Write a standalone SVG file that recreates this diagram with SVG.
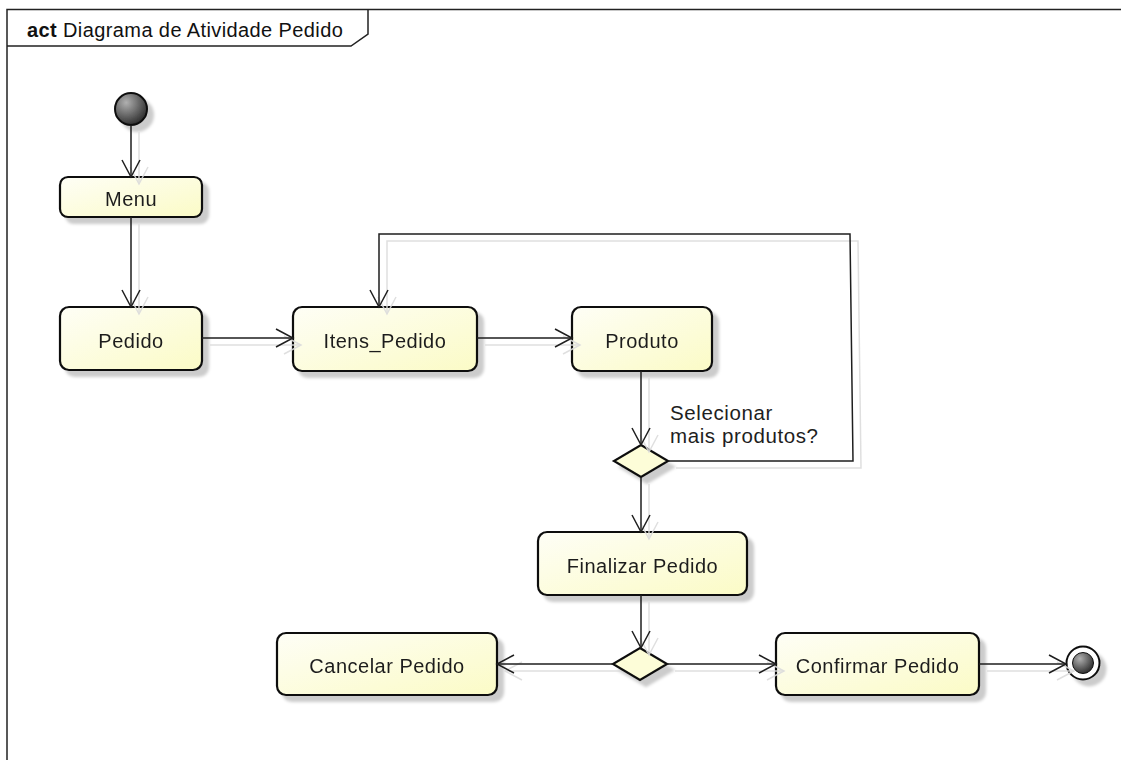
<svg xmlns="http://www.w3.org/2000/svg" width="1121" height="760" viewBox="0 0 1121 760">
  <style>
    .frame { fill: none; stroke: #222; stroke-width: 1.5; }
    .box { fill: url(#actFill); stroke: #111; stroke-width: 2.2; }
    .dec { fill: #fdfdd8; stroke: #111; stroke-width: 2.2; }
    .lbl { font-family: "Liberation Sans", Arial, sans-serif; font-size: 20px; letter-spacing: 0.5px; fill: #1e1e1e; text-anchor: middle; }
    .guard { font-family: "Liberation Sans", Arial, sans-serif; font-size: 20.5px; letter-spacing: 0.6px; fill: #1e1e1e; }
    .title { font-family: "Liberation Sans", Arial, sans-serif; font-size: 20px; letter-spacing: 0.4px; fill: #111; }
    .flow { fill: none; stroke: #1e1e1e; stroke-width: 1.5; marker-end: url(#open); }
    .flowShadow { fill: none; stroke: #dcdcdc; stroke-width: 1.5; marker-end: url(#openShadow); }
  </style>
  <defs>
    <linearGradient id="actFill" x1="0" y1="0" x2="1" y2="1">
      <stop offset="0" stop-color="#fefef6"/>
      <stop offset="1" stop-color="#fbfbc6"/>
    </linearGradient>
    <radialGradient id="ball" cx="0.35" cy="0.3" r="0.75">
      <stop offset="0" stop-color="#b0b0b0"/>
      <stop offset="1" stop-color="#2a2a2a"/>
    </radialGradient>
    <filter id="drop" x="-20%" y="-20%" width="150%" height="160%">
      <feGaussianBlur in="SourceAlpha" stdDeviation="1.6" result="b"/>
      <feOffset in="b" dx="6" dy="6" result="o"/>
      <feFlood flood-color="#000" flood-opacity="0.2"/>
      <feComposite in2="o" operator="in" result="s"/>
      <feMerge>
        <feMergeNode in="s"/>
        <feMergeNode in="SourceGraphic"/>
      </feMerge>
    </filter>
    <marker id="open" markerUnits="userSpaceOnUse" markerWidth="22" markerHeight="22" viewBox="0 0 22 22" refX="19" refY="11" orient="auto">
      <path d="M2,2 L19,11 L2,20" fill="none" stroke="#1e1e1e" stroke-width="1.5"/>
    </marker>
    <marker id="openShadow" markerUnits="userSpaceOnUse" markerWidth="22" markerHeight="22" viewBox="0 0 22 22" refX="19" refY="11" orient="auto">
      <path d="M2,2 L19,11 L2,20" fill="none" stroke="#dcdcdc" stroke-width="1.5"/>
    </marker>
  </defs>

  <rect width="1121" height="760" fill="#fff"/>

  <!-- activity frame with name tab -->
  <g id="frame">
    <path class="frame" d="M7,760 V9.5 H1121"/>
    <path class="frame" d="M7,46 H351 L368,34 V9.5"/>
    <text x="27" y="37" class="title" font-weight="bold">act</text>
    <text x="63" y="37" class="title">Diagrama de Atividade Pedido</text>
  </g>

  <!-- nodes -->
  <g id="initial" filter="url(#drop)">
    <circle cx="131" cy="109" r="16" fill="url(#ball)" stroke="#111" stroke-width="2"/>
  </g>

  <g id="menu" filter="url(#drop)">
    <rect class="box" x="60" y="177" width="142" height="40" rx="8"/>
    <text class="lbl" x="131" y="206">Menu</text>
  </g>

  <g id="pedido" filter="url(#drop)">
    <rect class="box" x="60" y="307" width="142" height="63" rx="9"/>
    <text class="lbl" x="131" y="348">Pedido</text>
  </g>

  <g id="itens_pedido" filter="url(#drop)">
    <rect class="box" x="293" y="307" width="184" height="64" rx="9"/>
    <text class="lbl" x="385" y="348">Itens_Pedido</text>
  </g>

  <g id="produto" filter="url(#drop)">
    <rect class="box" x="572" y="307" width="140" height="64" rx="9"/>
    <text class="lbl" x="642" y="348">Produto</text>
  </g>

  <g id="decisao_produtos" filter="url(#drop)">
    <polygon class="dec" points="641,445 668,461 641,477 614,461"/>
  </g>

  <g id="finalizar_pedido" filter="url(#drop)">
    <rect class="box" x="538" y="532" width="209" height="63" rx="9"/>
    <text class="lbl" x="642.5" y="573">Finalizar Pedido</text>
  </g>

  <g id="decisao_confirmacao" filter="url(#drop)">
    <polygon class="dec" points="640,648 667,664 640,680 613,664"/>
  </g>

  <g id="cancelar_pedido" filter="url(#drop)">
    <rect class="box" x="277" y="633" width="220" height="62" rx="9"/>
    <text class="lbl" x="387" y="673">Cancelar Pedido</text>
  </g>

  <g id="confirmar_pedido" filter="url(#drop)">
    <rect class="box" x="776" y="633" width="203" height="62" rx="9"/>
    <text class="lbl" x="877.5" y="673">Confirmar Pedido</text>
  </g>

  <g id="final" filter="url(#drop)">
    <circle cx="1083" cy="663" r="16.5" fill="#fff" stroke="#111" stroke-width="2"/>
    <circle cx="1083" cy="663" r="10.5" fill="url(#ball)" stroke="#111" stroke-width="1"/>
  </g>

  <!-- control flows: soft shadow copies, then the flows themselves -->
  <g id="connectors">
    <g transform="translate(8,7)" opacity="0.9">
      <path class="flowShadow" d="M131,125 V177"/>
      <path class="flowShadow" d="M131,217 V307"/>
      <path class="flowShadow" d="M202,338 H293"/>
      <path class="flowShadow" d="M477,338 H572"/>
      <path class="flowShadow" d="M641,371 V445"/>
      <path class="flowShadow" d="M668,461 H853 L850,234 H379 V307"/>
      <path class="flowShadow" d="M641,477 V532"/>
      <path class="flowShadow" d="M641,595 V648"/>
      <path class="flowShadow" d="M613,664 H497"/>
      <path class="flowShadow" d="M667,664 H776"/>
      <path class="flowShadow" d="M979,664 H1066"/>
    </g>
    <path class="flow" d="M131,125 V177"/>
    <path class="flow" d="M131,217 V307"/>
    <path class="flow" d="M202,338 H293"/>
    <path class="flow" d="M477,338 H572"/>
    <path class="flow" d="M641,371 V445"/>
    <path class="flow" d="M668,461 H853 L850,234 H379 V307"/>
    <path class="flow" d="M641,477 V532"/>
    <path class="flow" d="M641,595 V648"/>
    <path class="flow" d="M613,664 H497"/>
    <path class="flow" d="M667,664 H776"/>
    <path class="flow" d="M979,664 H1066"/>
    <text class="guard" x="670" y="420">Selecionar</text>
    <text class="guard" x="670" y="443">mais produtos?</text>
  </g>
</svg>
